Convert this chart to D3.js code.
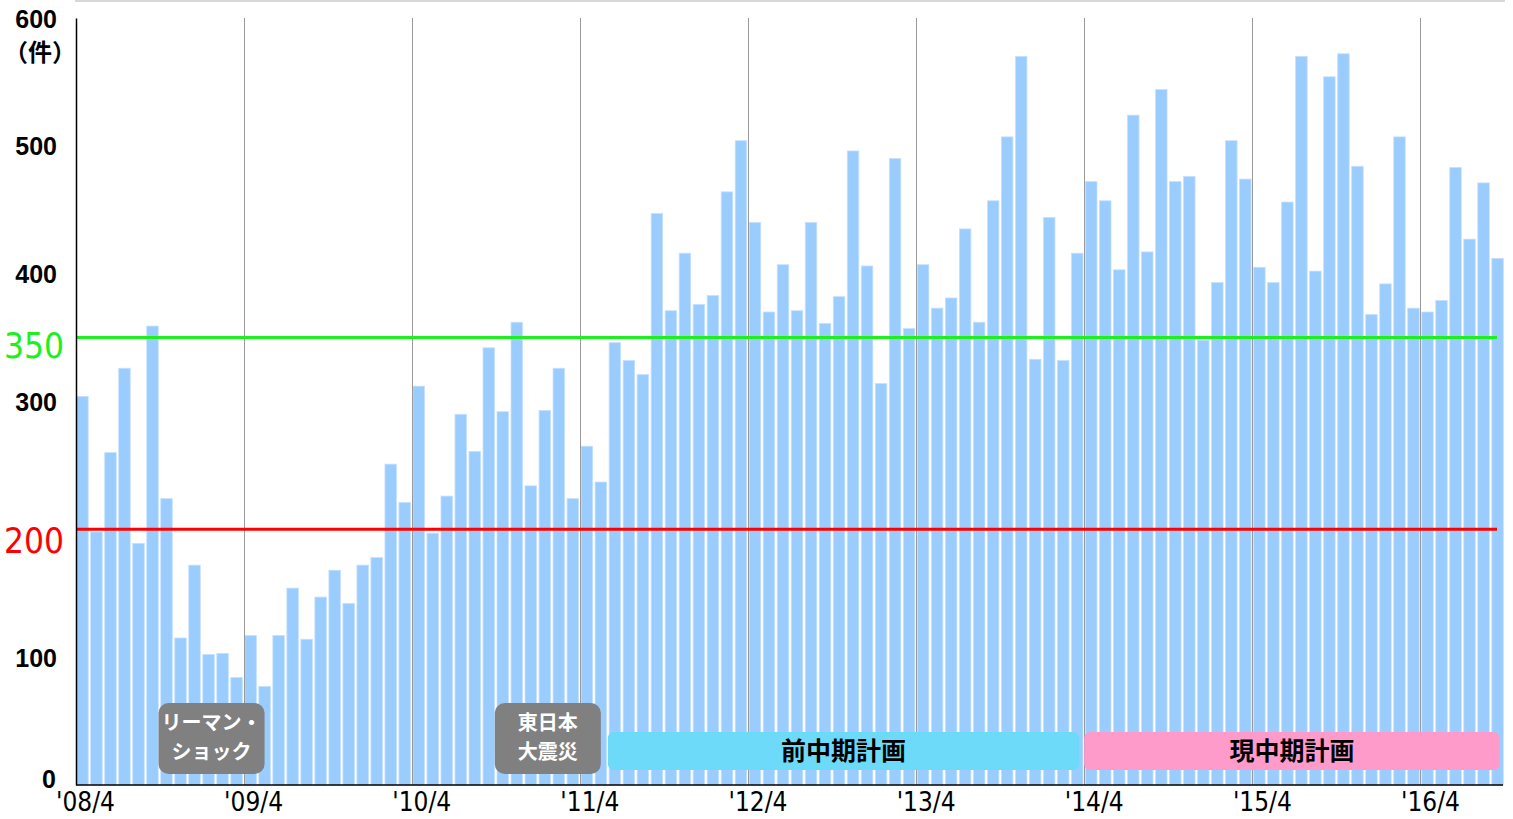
<!DOCTYPE html>
<html>
<head>
<meta charset="utf-8">
<script src="https://cdn.jsdelivr.net/npm/d3@7"></script>
<style>
  html, body { margin: 0; padding: 0; background: #fff; }
  svg { display: block; }
  .num { font-family: "Liberation Sans Narrow", "DejaVu Sans Condensed", "Liberation Sans", sans-serif; }
  .jp { font-family: "Noto Sans CJK JP", "Noto Sans", sans-serif; font-weight: 700; }
</style>
</head>
<body>
<svg id="chart" width="1513" height="819"></svg>
<script>
// monthly counts, '08/4 .. '16/9
var startYear = 2008, startMonth = 4;
var counts = [
  304,198,260,326,189,359,224,115,172,102,103,84,   // FY08
  117,77,117,154,114,147,168,142,172,178,251,221,   // FY09
  312,197,226,290,261,342,292,362,234,293,326,224,  // FY10
  265,237,346,332,321,447,371,416,376,383,464,504,  // FY11
  440,370,407,371,440,361,382,496,406,314,490,357,  // FY12
  407,373,381,435,362,457,507,570,333,444,332,416,  // FY13
  472,457,403,524,417,544,472,476,348,393,504,474,  // FY14
  405,393,456,570,402,554,572,484,368,392,507,373,  // FY15
  370,379,483,427,471,412                           // FY16
];
var yTicks = [0, 100, 300, 400, 500, 600];
var refLines = [
  {value: 350, color: "#1ef01e"},
  {value: 200, color: "#ff0000"}
];
// events / plan periods: first & last month
var events = [
  {lines: ["リーマン・", "ショック"], from: "08/10", to: "09/4"},
  {lines: ["東日本", "大震災"], from: "10/10", to: "11/4"}
];
var plans = [
  {label: "前中期計画", from: "11/6", to: "14/3", color: "#6cdaf8"},
  {label: "現中期計画", from: "14/4", to: "16/9", color: "#ff9bcb"}
];

var months = [];
for (var i = 0; i < counts.length; i++) {
  var m = startMonth - 1 + i;
  var yy = startYear + Math.floor(m / 12);
  months.push(String(yy).slice(2) + "/" + (m % 12 + 1));
}
var aprils = months.filter(function (d) { return /\/4$/.test(d); });

var svg = d3.select("#chart");
var plotL = 76, plotR = 1504, plotT = 18, plotB = 785;

var x = d3.scaleBand().domain(months).range([plotL, plotR]).paddingInner(0.18).paddingOuter(0.05);
var y = d3.scaleLinear().domain([0, 600]).range([plotB, plotT]);
var step = x.step();
function gx(d) { return x(d) - x.step() * x.paddingInner() / 2; }

// top shadow line
svg.append("rect").attr("x", plotL - 1).attr("y", 0).attr("width", plotR - plotL + 2).attr("height", 2).attr("fill", "#d8d8d8");

// bars
svg.append("g").selectAll("rect").data(counts).join("rect")
  .attr("x", function (d, i) { return x(months[i]); })
  .attr("y", function (d) { return y(d); })
  .attr("width", x.bandwidth())
  .attr("height", function (d) { return y(0) - y(d); })
  .attr("fill", "#9accfd")
  .attr("stroke", "#c4e0fe")
  .attr("stroke-width", 0.8);

// vertical year grid lines
svg.append("g").selectAll("line").data(aprils.slice(1)).join("line")
  .attr("x1", function (d) { return Math.round(gx(d)) + 0.5; })
  .attr("x2", function (d) { return Math.round(gx(d)) + 0.5; })
  .attr("y1", plotT).attr("y2", plotB)
  .attr("stroke", "#9a9a9a").attr("stroke-width", 1);

// reference lines
svg.append("g").selectAll("line").data(refLines).join("line")
  .attr("x1", plotL).attr("x2", 1497)
  .attr("y1", function (d) { return y(d.value); })
  .attr("y2", function (d) { return y(d.value); })
  .attr("stroke", function (d) { return d.color; })
  .attr("stroke-width", 3);

// axes
var yAxis = d3.axisLeft(y).tickValues(yTicks).tickSize(0).tickPadding(19);
var ya = svg.append("g").attr("transform", "translate(" + plotL + ",0)").call(yAxis);
ya.select(".domain").attr("stroke", "#000").attr("stroke-width", 1.5);
ya.selectAll("text").style("font-family", "'Liberation Sans', Arial, sans-serif")
  .attr("font-size", 25).attr("font-weight", 700).attr("fill", "#000")
  .attr("dy", "0.36em");
ya.selectAll(".tick").filter(function (d) { return d === 0; }).select("text")
  .attr("x", -20).attr("dy", "0.1em");

svg.append("text").attr("class", "jp").attr("x", 40).attr("y", 54)
  .attr("text-anchor", "middle").attr("dominant-baseline", "middle")
  .attr("font-size", 24).text("（件）");

svg.append("g").selectAll("text").data(refLines).join("text")
  .attr("class", "num")
  .attr("x", 34)
  .attr("y", function (d) { return y(d.value) + (d.value === 200 ? 14 : 10); })
  .attr("text-anchor", "middle").attr("dominant-baseline", "middle")
  .attr("font-size", 35)
  .attr("fill", function (d) { return d.color; })
  .text(function (d) { return d.value; });

var xAxis = d3.axisBottom(x).tickValues(aprils).tickSize(0).tickPadding(7)
  .tickFormat(function (d) { return "'" + d; });
var xa = svg.append("g").attr("transform", "translate(0," + plotB + ")").call(xAxis);
xa.select(".domain").attr("stroke", "#000").attr("stroke-width", 1.5)
  .attr("d", "M" + plotL + ",0H" + (plotR - 1));
xa.selectAll("text").attr("class", "num")
  .attr("font-size", 26).attr("fill", "#000")
  .attr("dy", "0.72em").attr("dx", 3);

// event boxes
var ev = svg.append("g").selectAll("g").data(events).join("g");
function evX(d) { return gx(d.from) - 1; }
function evW(d) { return gx(d.to) - gx(d.from) + 22; }
ev.append("rect")
  .attr("x", evX).attr("y", 703)
  .attr("width", evW)
  .attr("height", 71).attr("rx", 10)
  .attr("fill", "#808080");
ev.each(function (d) {
  var g = d3.select(this);
  var cx = evX(d) + evW(d) / 2;
  d.lines.forEach(function (t, k) {
    g.append("text").attr("class", "jp")
      .attr("x", cx).attr("y", 725 + k * 29)
      .attr("text-anchor", "middle").attr("dominant-baseline", "middle")
      .attr("font-size", 20).attr("fill", "#fff").text(t);
  });
});

// plan boxes
var pl = svg.append("g").selectAll("g").data(plans).join("g");
function plX(d) { return gx(d.from); }
function plE(d) { return gx(d.to) + step - 5; }
pl.append("rect")
  .attr("x", plX).attr("y", 732)
  .attr("width", function (d) { return plE(d) - plX(d); })
  .attr("height", 38).attr("rx", 6)
  .attr("fill", function (d) { return d.color; });
pl.append("text").attr("class", "jp")
  .attr("x", function (d) { return (plX(d) + plE(d)) / 2; })
  .attr("y", 753)
  .attr("text-anchor", "middle").attr("dominant-baseline", "middle")
  .attr("font-size", 25).attr("fill", "#000")
  .text(function (d) { return d.label; });
</script>
</body>
</html>
